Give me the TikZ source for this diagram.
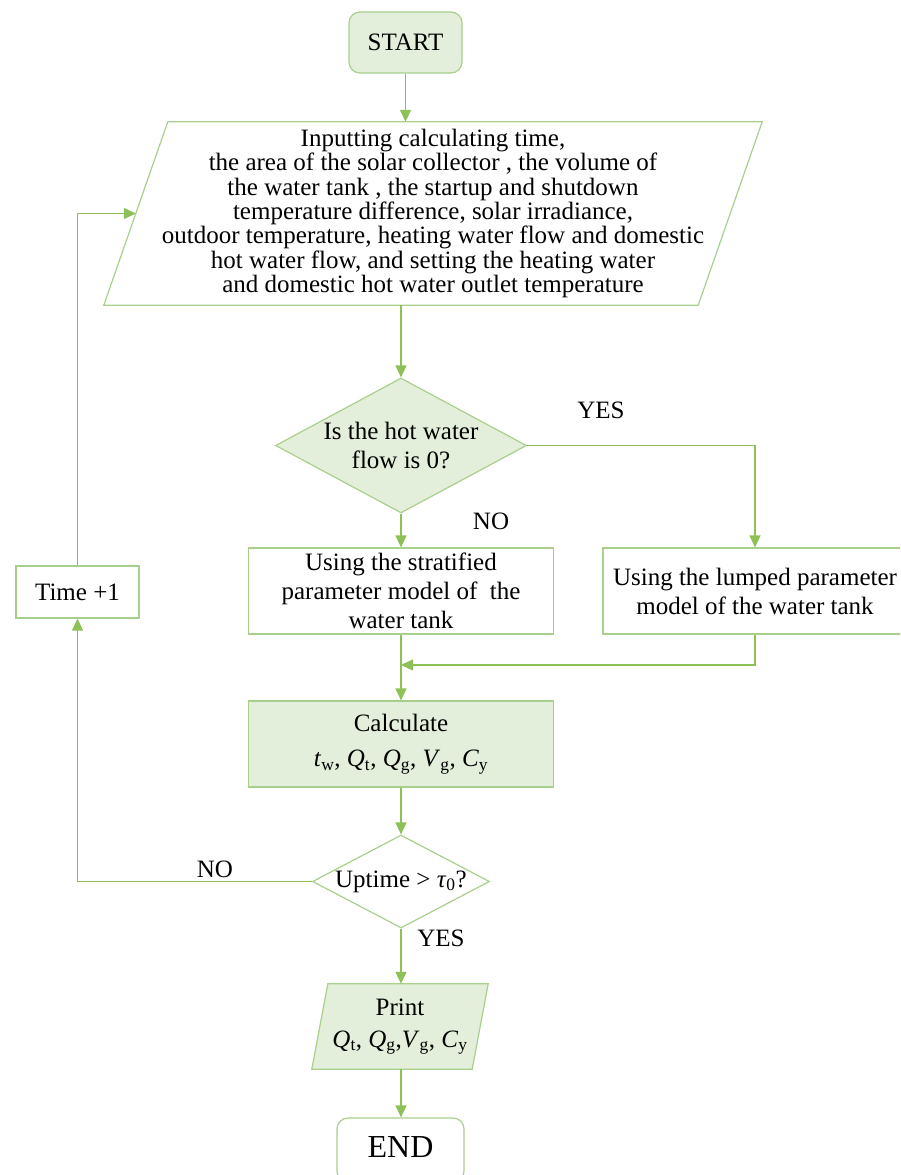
\documentclass[tikz,border=0pt]{standalone}
\usepackage{fontspec}
\setmainfont{Liberation Serif}
\usetikzlibrary{shapes.geometric,arrows.meta,calc}
\definecolor{conn}{RGB}{141,193,88}
\definecolor{bord}{RGB}{168,208,140}
\definecolor{lfill}{RGB}{227,239,219}
\tikzset{
  txt/.style={inner sep=0pt, font=\fontsize{25}{29}\selectfont, align=center},
  base/.style={draw=bord, line width=1.2pt, inner sep=0pt},
  procbox/.style={base, txt, rectangle, minimum width=305pt, minimum height=86pt},
  termbox/.style={base, txt, rectangle, rounded corners=11pt},
  decide/.style={base, diamond},
  ioframe/.style={rectangle, inner sep=0pt},
  ioline/.style={draw=bord, line width=1.2pt},
  arr/.style={draw=conn, line width=1.4pt, -{Triangle[length=12pt,width=11pt]}},
  lbl/.style={txt},
}
\begin{document}
\begin{tikzpicture}[x=1pt,y=-1pt]
\useasboundingbox (0,0) rectangle (900,1175);
\clip (0,0) rectangle (900,1175);

% nodes
\node[termbox, fill=lfill, minimum width=113pt, minimum height=61pt] (start) at (405.5,42.5) {START};

\node[ioframe, minimum width=658pt, minimum height=183pt] (inp) at (433,213.5) {};
\draw[ioline] ($(inp.north west)+(64,0)$) -- (inp.north east) -- ($(inp.south east)+(-64,0)$) -- (inp.south west) -- cycle;
\coordinate (inpW) at ($(inp.west)+(32,0)$);
\node[txt, font=\fontsize{25}{24.3}\selectfont] (inpt) at (inp.center) {Inputting calculating time,\\
the area of the solar collector , the volume of\\
the water tank , the startup and shutdown\\
temperature difference, solar irradiance,\\
outdoor temperature, heating water flow and domestic\\
hot water flow, and setting the heating water\\
and domestic hot water outlet temperature};

\node[decide, fill=lfill, minimum width=251pt, minimum height=135pt] (d1) at (401,445.5) {};
\node[txt] (d1t) at (d1.center) {Is the hot water\\flow is 0?};

\node[procbox] (strat) at (401,591) {Using the stratified\\parameter model of \ the\\water tank};
\node[procbox, minimum width=304pt] (lump) at (755,591) {Using the lumped parameter\\model of the water tank};

\node[base, txt, minimum width=123pt, minimum height=52pt] (time) at (77.5,592) {Time +1};

\node[procbox, fill=lfill] (calc) at (401,744) {Calculate\\[6pt]\textit{t}\textsubscript{w}, \textit{Q}\textsubscript{t}, \textit{Q}\textsubscript{g}, \textit{V}\textsubscript{g}, \textit{C}\textsubscript{y}};

\node[decide, minimum width=177pt, minimum height=93pt] (d2) at (401,881.5) {};
\node[txt] (d2t) at (d2.center) {Uptime > \textit{τ}\textsubscript{0}?};

\node[ioframe, minimum width=176pt, minimum height=85pt] (prt) at (400,1026.5) {};
\draw[ioline, fill=lfill] ($(prt.north west)+(16,0)$) -- (prt.north east) -- ($(prt.south east)+(-16,0)$) -- (prt.south west) -- cycle;
\node[txt] (prtt) at (prt.center) {Print\\[3pt]\textit{Q}\textsubscript{t}, \textit{Q}\textsubscript{g},\textit{V}\textsubscript{g}, \textit{C}\textsubscript{y}};

\node[termbox, minimum width=127pt, minimum height=64pt] (end) at (400.5,1150) {};
\node[txt, font=\fontsize{32}{36}\selectfont] (endt) at (400.5,1147) {END};

% labels
\node[lbl] (yes1) at (601,410) {YES};
\node[lbl] (no1) at (491,521) {NO};
\node[lbl] (no2) at (215,869) {NO};
\node[lbl] (yes2) at (441,938) {YES};

\coordinate (mrg) at (401,665);

% connectors
\draw[arr] (start.south) -- (start.south |- inp.north);
\draw[arr] (d1.north |- inp.south) -- (d1.north);
\draw[arr] (d1.east) -| (lump.north);
\draw[arr] (d1.south) -- (strat.north);
\draw[arr] (strat.south) -- (calc.north);
\draw[arr] (lump.south) |- (mrg);
\draw[arr] (calc.south) -- (d2.north);
\draw[arr] (d2.west) -| (time.south);
\draw[arr] (time.north) |- (inpW);
\draw[arr] (d2.south) -- (d2.south |- prt.north);
\draw[arr] (d2.south |- prt.south) -- (d2.south |- end.north);
\end{tikzpicture}
\end{document}
